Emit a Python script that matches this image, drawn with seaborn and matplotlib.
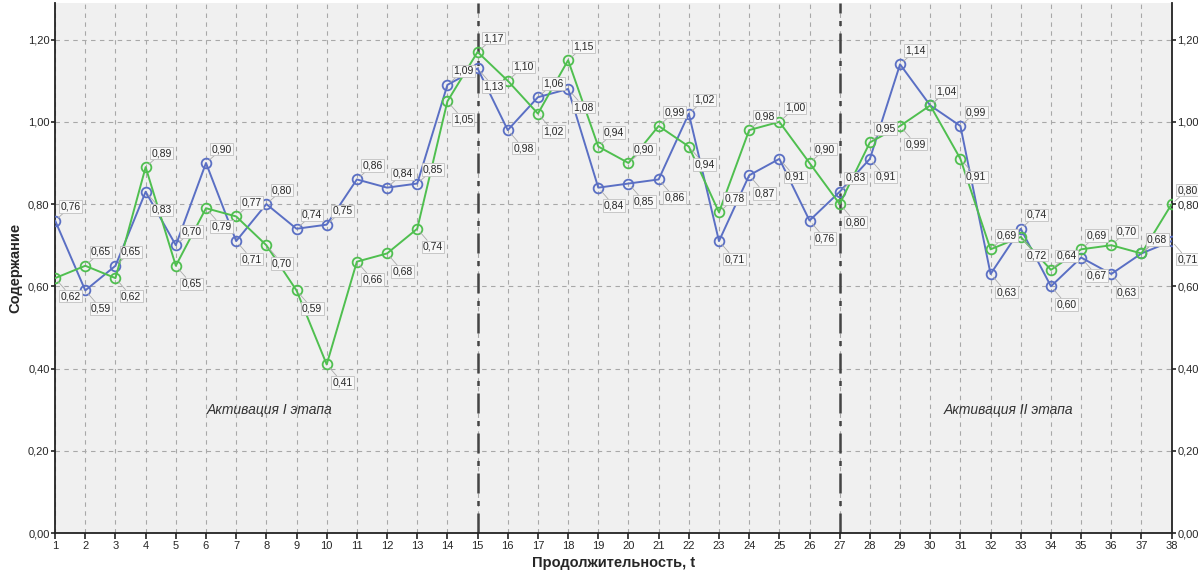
import pandas as pd
import matplotlib.pyplot as plt
import seaborn as sns
import numpy as np

t = list(range(1, 39))
blue_vals = [0.76, 0.59, 0.65, 0.83, 0.70, 0.90, 0.71, 0.80, 0.74, 0.75,
             0.86, 0.84, 0.85, 1.09, 1.13, 0.98, 1.06, 1.08, 0.84, 0.85,
             0.86, 1.02, 0.71, 0.87, 0.91, 0.76, 0.83, 0.91, 1.14, 1.04,
             0.99, 0.63, 0.74, 0.60, 0.67, 0.63, 0.68, 0.71]
green_vals = [0.62, 0.65, 0.62, 0.89, 0.65, 0.79, 0.77, 0.70, 0.59, 0.41,
              0.66, 0.68, 0.74, 1.05, 1.17, 1.10, 1.02, 1.15, 0.94, 0.90,
              0.99, 0.94, 0.78, 0.98, 1.00, 0.90, 0.80, 0.95, 0.99, 1.04,
              0.91, 0.69, 0.72, 0.64, 0.69, 0.70, 0.68, 0.80]
stage_lines = [15, 27]
stage_labels = ['Активация I этапа', 'Активация II этапа']
stage_label_x = [8.1, 32.6]
yticks = [0.0, 0.2, 0.4, 0.6, 0.8, 1.0, 1.2]

blue_df = pd.DataFrame({'t': t, 'value': blue_vals})
green_df = pd.DataFrame({'t': t, 'value': green_vals})

sns.set_style('ticks')
plt.rcParams['font.family'] = ['Liberation Sans', 'DejaVu Sans']

fig = plt.figure(figsize=(11.98, 5.74), dpi=100)
ax = fig.add_axes([0.046, 0.0714, 0.932, 0.924])
ax.set_facecolor('#f0f0f0')

for d, c in ((blue_df, '#5a6fc4'), (green_df, '#4fbf4f')):
    sns.lineplot(data=d, x='t', y='value', color=c, marker='o', markersize=7,
                 markerfacecolor='none', markeredgecolor=c, markeredgewidth=1.3,
                 linewidth=1.4, ax=ax, zorder=3)

ax.set_xlim(1, 38)
ax.set_ylim(0, 1.29)
ax.set_xticks(t)
ax.set_yticks(yticks)
ax.set_yticklabels([f'{v:.2f}'.replace('.', ',') for v in yticks])
ax.grid(True, linestyle=(0, (4, 4)), color='#a8a8a8', linewidth=0.8)
ax.tick_params(axis='x', labelsize=8, length=4, width=1.2, color='#222222', pad=1.5)
ax.tick_params(axis='y', labelsize=8, length=3, width=1.2, color='#222222', pad=1,
               right=True, labelright=True)
for s in ax.spines.values():
    s.set_linewidth(1.3)
    s.set_color('#222222')
ax.spines['top'].set_visible(False)

for xl in stage_lines:
    ax.axvline(xl, color='#444444', linewidth=1.8, linestyle=(0, (8, 3, 2, 3)), zorder=2)

for lab, xp in zip(stage_labels, stage_label_x):
    ax.text(xp, 0.30, lab, fontsize=10, style='italic', color='#333333',
            ha='center', va='center')

ax.set_xlabel('Продолжительность, t', fontsize=10.5, fontweight='bold', labelpad=4)
ax.set_ylabel('Содержание', fontsize=10.5, fontweight='bold', labelpad=4)

box = dict(boxstyle='square,pad=0.12', fc='#f8f8f8', ec='#c0c0c0', lw=0.6)
arrow = dict(arrowstyle='-', color='#aaaaaa', lw=0.6, shrinkA=0, shrinkB=3)
for i, x in enumerate(t):
    b, g = blue_vals[i], green_vals[i]
    for v, other in ((b, g), (g, b)):
        up = v >= other
        off = (4, 10) if up else (4, -13)
        ax.annotate(f'{v:.2f}'.replace('.', ','), xy=(x, v), xytext=off,
                    textcoords='offset points', fontsize=7.5, ha='left', va='center',
                    bbox=box, arrowprops=arrow, zorder=4, annotation_clip=False)

fig.savefig('out.png', dpi=100)
